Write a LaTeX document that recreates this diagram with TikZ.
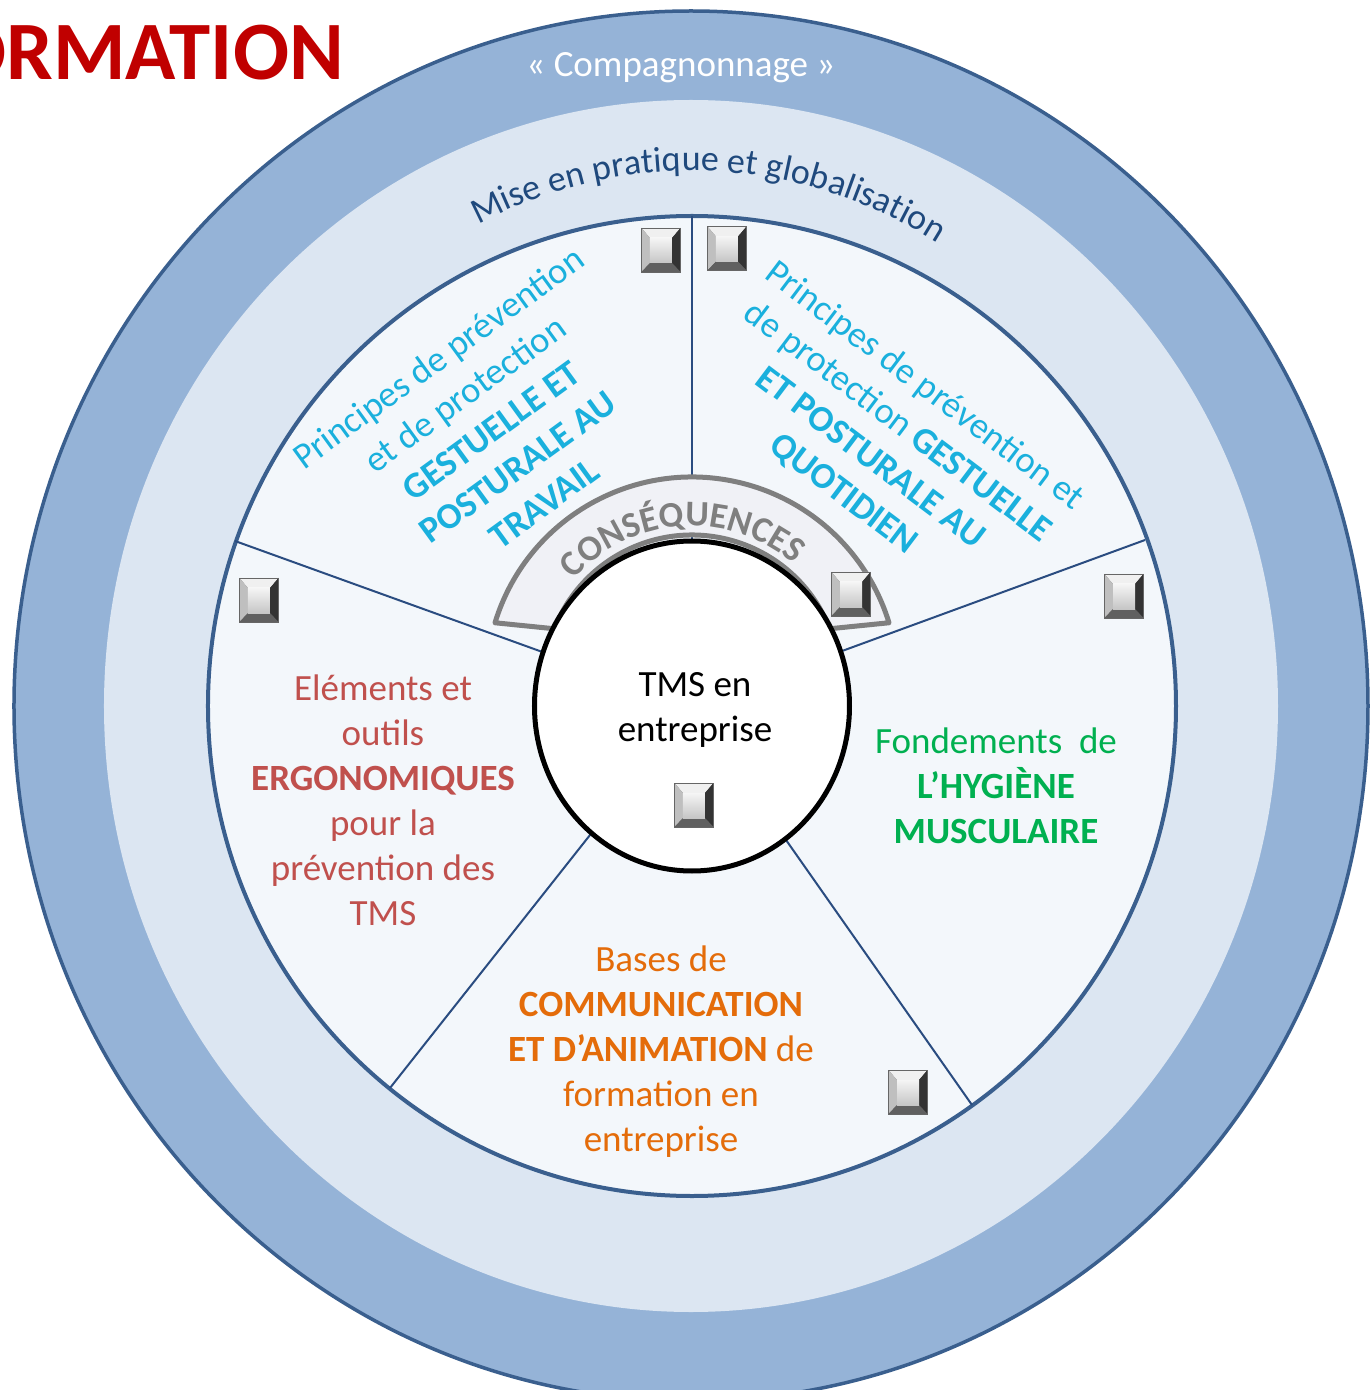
\documentclass[tikz,border=0pt]{standalone}
\usepackage{fontspec}
\setmainfont{Carlito}
\usetikzlibrary{decorations.text}
\definecolor{ringout}{HTML}{95B3D7}
\definecolor{ringmid}{HTML}{DCE6F2}
\definecolor{disc}{HTML}{F3F7FB}
\definecolor{edgeblue}{HTML}{3A5F8E}
\definecolor{segline}{HTML}{2A4C80}
\definecolor{cyantxt}{HTML}{1AB0DD}
\definecolor{redtxt}{HTML}{C0504D}
\definecolor{greentxt}{HTML}{00B050}
\definecolor{orangetxt}{HTML}{E46C0A}
\definecolor{misetxt}{HTML}{1F497D}
\definecolor{greytxt}{HTML}{7F7F7F}
\definecolor{bandfill}{HTML}{F0F1F6}
\definecolor{titlered}{HTML}{C00000}
\begin{document}
\begin{tikzpicture}[x=1pt,y=1pt,
  lbl/.style={align=center, font=\fontsize{37}{45}\selectfont, inner sep=0pt},
  cyanlbl/.style={align=center, font=\fontsize{36.5}{45}\selectfont, inner sep=0pt, text=cyantxt},
  segstyle/.style={draw=segline, line width=2},
  btn/.pic={
    \fill[black!70] (-19.5,-22) rectangle (19.5,22);
    \fill[gray!12] (-19.5,22) -- (19.5,22) -- (11,12) -- (-11,12) -- cycle;
    \fill[gray!50] (-19.5,22) -- (-11,12) -- (-11,-13) -- (-19.5,-22) -- cycle;
    \fill[black!80] (19.5,22) -- (11,12) -- (11,-13) -- (19.5,-22) -- cycle;
    \fill[gray!75!black] (-19.5,-22) -- (-11,-13) -- (11,-13) -- (19.5,-22) -- cycle;
    \shade[top color=gray!8, bottom color=gray!45] (-11,-13) rectangle (11,12);
    \draw[black!60, line width=0.8] (-19.5,-22) rectangle (19.5,22);
  }]
\useasboundingbox (-692,-684) rectangle (679,706);
\clip (-692,-684) rectangle (679,706);
\fill[white] (-692,-684) rectangle (679,706);
% title
\node[anchor=base east, inner sep=0pt, text=titlered, font=\fontsize{83}{90}\selectfont\bfseries] (title) at (-348,626) {FORMATION};
% rings
\draw[fill=ringout, draw=edgeblue, line width=3.5] (-1,0) ellipse[x radius=677, y radius=695];
\fill[ringmid] (-1,0) ellipse[x radius=587, y radius=606];
\draw[fill=disc, draw=edgeblue, line width=4] (0,0) ellipse[x radius=484, y radius=490];
% segment lines
\coordinate (c) at (0,0);
\coordinate (s1) at (0,490);
\coordinate (s2) at (-457,165);
\coordinate (s3) at (-302,-382);
\coordinate (s4) at (280,-399);
\coordinate (s5) at (453,166);
\foreach \p in {s1,s2,s3,s4,s5} \draw[segstyle] (c) -- (\p);
% consequences band
\begin{scope}[shift={(0,23)}]
\draw[fill=bandfill, draw=greytxt, line width=5, line join=round]
  (163:206) arc[start angle=163, end angle=17, radius=206] -- (21.5:148)
  arc[start angle=21.5, end angle=158.5, radius=148] -- cycle;
\path[decorate, decoration={text along path, text align=center,
  text={|\fontsize{36}{36}\selectfont\bfseries\color{greytxt}|CONSÉQUENCES}}]
  (154:157) arc[start angle=154, end angle=34, radius=157];
\end{scope}
% centre circle
\draw[fill=white, draw=black, line width=5] (0,0) ellipse[x radius=157.5, y radius=165];
% ring texts
\node[inner sep=0pt, text=white, font=\fontsize{37}{40}\selectfont] (comp) at (-11,638) {« Compagnonnage »};
\path[decorate, decoration={text along path, text align=center,
  text={|\fontsize{36}{36}\selectfont\color{misetxt}|Mise en pratique et globalisation}}]
  (150:490 and 535) arc[start angle=150, end angle=26, x radius=490, y radius=535];
% segment texts
\node[cyanlbl, rotate=36] (ul) at (-201,276)
  {Principes de prévention\\et de protection\\\textbf{GESTUELLE ET}\\\textbf{POSTURALE AU}\\\textbf{TRAVAIL}};
\node[cyanlbl, rotate=-37] (ur) at (192,266)
  {Principes de prévention et\\de protection \textbf{GESTUELLE}\\\textbf{ET POSTURALE AU}\\\textbf{QUOTIDIEN}};
\node[lbl, text=redtxt] (left) at (-309,-94)
  {Eléments et\\outils\\\textbf{ERGONOMIQUES}\\pour la\\prévention des\\TMS};
\node[lbl, text=greentxt] (right) at (304,-80)
  {Fondements~~de\\\textbf{L’HYGIÈNE}\\\textbf{MUSCULAIRE}};
\node[lbl, text=orangetxt] (bottom) at (-31,-346)
  {Bases de\\\textbf{COMMUNICATION}\\\textbf{ET D’ANIMATION} de\\formation en\\entreprise};
\node[lbl, text=black] (centre) at (3,-4) {TMS en\\entreprise};
% buttons
\pic at (-31,456) {btn};
\pic at (35,457.5) {btn};
\pic at (-433,106) {btn};
\pic at (432,110) {btn};
\pic at (159,112) {btn};
\pic at (2,-99) {btn};
\pic at (216,-386) {btn};
\end{tikzpicture}
\end{document}
